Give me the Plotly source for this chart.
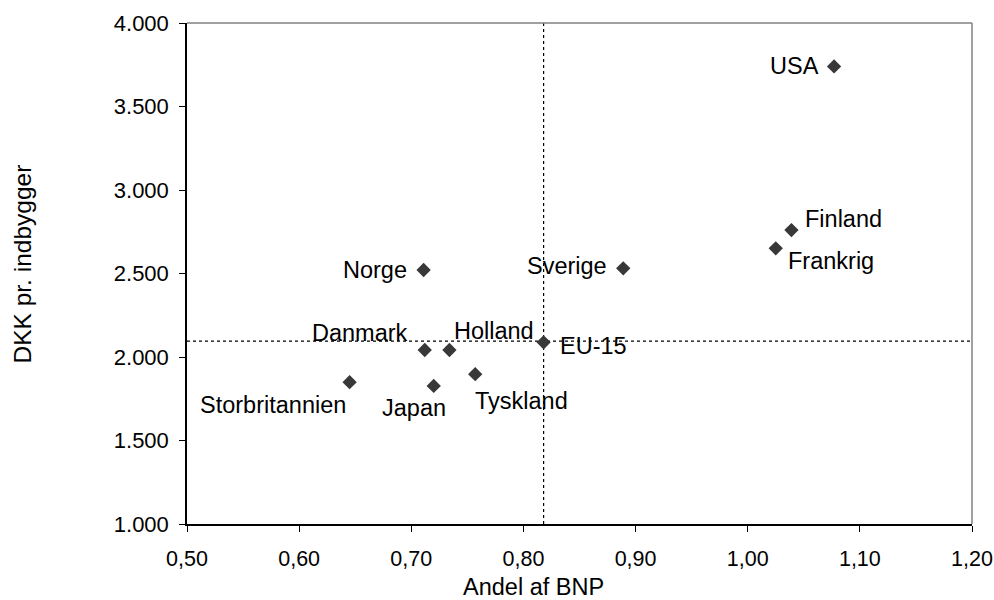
import plotly.graph_objects as go

countries = ["USA", "Finland", "Frankrig", "Sverige", "Norge", "Danmark", "Holland",
             "EU-15", "Storbritannien", "Japan", "Tyskland"]
andel_bnp = [1.077, 1.039, 1.025, 0.889, 0.711, 0.712, 0.734, 0.818, 0.645, 0.720, 0.757]
dkk_pr_indb = [3740, 2760, 2651, 2531, 2521, 2042, 2042, 2088, 1849, 1827, 1897]
ref_x = 0.818
ref_y = 2095

x_ticks = [0.5, 0.6, 0.7, 0.8, 0.9, 1.0, 1.1, 1.2]
y_ticks = [1000, 1500, 2000, 2500, 3000, 3500, 4000]
x_title = "Andel af BNP"
y_title = "DKK pr. indbygger"

# label placement (styles): xanchor, xshift, yshift in px
label_style = {
    "USA": ("right", -13, 0),
    "Finland": ("left", 12, 11),
    "Frankrig": ("left", 10, -13),
    "Sverige": ("right", -14, 2),
    "Norge": ("right", -15, 0),
    "Danmark": ("right", -15, 17),
    "Holland": ("left", 3, 19),
    "EU-15": ("left", 14, -4),
    "Storbritannien": ("right", -2, -23),
    "Japan": ("center", -20, -22),
    "Tyskland": ("left", -2, -27),
}

FONT = "Liberation Sans, Arial, sans-serif"

fig = go.Figure()

fig.add_trace(go.Scatter(
    x=[ref_x, ref_x], y=[y_ticks[0], y_ticks[-1]], mode="lines",
    line=dict(color="#000000", width=1.2, dash="dot"), hoverinfo="skip", showlegend=False))
fig.add_trace(go.Scatter(
    x=[x_ticks[0], x_ticks[-1]], y=[ref_y, ref_y], mode="lines",
    line=dict(color="#000000", width=1.2, dash="dot"), hoverinfo="skip", showlegend=False))

fig.add_trace(go.Scatter(
    x=andel_bnp, y=dkk_pr_indb, mode="markers", text=countries,
    marker=dict(symbol="diamond", size=11, color="#383838"),
    showlegend=False))

for c, xv, yv in zip(countries, andel_bnp, dkk_pr_indb):
    xa, xs, ys = label_style[c]
    fig.add_annotation(x=xv, y=yv, xref="x", yref="y", text=c, showarrow=False,
                       xanchor=xa, yanchor="middle", xshift=xs, yshift=ys,
                       font=dict(family=FONT, size=23.5, color="#000000"))

# axis titles
fig.add_annotation(x=0.5, y=0, xref="paper", yref="paper", text=x_title, showarrow=False,
                   xanchor="center", yanchor="middle", xshift=-46, yshift=-63,
                   font=dict(family=FONT, size=23.5, color="#000000"))
fig.add_annotation(x=0, y=0.5, xref="paper", yref="paper", text=y_title, showarrow=False,
                   textangle=-90, xanchor="center", yanchor="middle", xshift=-165, yshift=9,
                   font=dict(family=FONT, size=24.5, color="#000000"))

# gray top and right border
fig.add_shape(type="line", xref="paper", yref="paper", x0=0, x1=1, y0=1, y1=1,
              line=dict(color="#808080", width=1.5))
fig.add_shape(type="line", xref="paper", yref="paper", x0=1, x1=1, y0=0, y1=1,
              line=dict(color="#808080", width=1.5))

fig.update_layout(
    width=994, height=600,
    margin=dict(l=187, r=22, t=23, b=76, autoexpand=False),
    plot_bgcolor="white", paper_bgcolor="white",
    separators=",.",
    font=dict(family=FONT, size=21, color="#000000"),
    xaxis=dict(range=[x_ticks[0], x_ticks[-1]], tickvals=x_ticks, tickformat=".2f",
               showgrid=False, zeroline=False, showline=True, linecolor="#000000",
               linewidth=1.5, ticks="outside", ticklen=6, tickcolor="#000000",
               tickfont=dict(size=21.5), ticklabelstandoff=8, ticklabeloverflow="allow"),
    yaxis=dict(range=[y_ticks[0], y_ticks[-1]], tickvals=y_ticks, tickformat=",d",
               showgrid=False, zeroline=False, showline=True, linecolor="#000000",
               linewidth=1.5, ticks="outside", ticklen=6, tickcolor="#000000",
               tickfont=dict(size=22), ticklabelstandoff=6, ticklabeloverflow="allow"),
)

fig.write_html("out.html", config={"displayModeBar": False},
               post_script="document.body.style.margin='0';document.body.style.overflow='hidden';")
